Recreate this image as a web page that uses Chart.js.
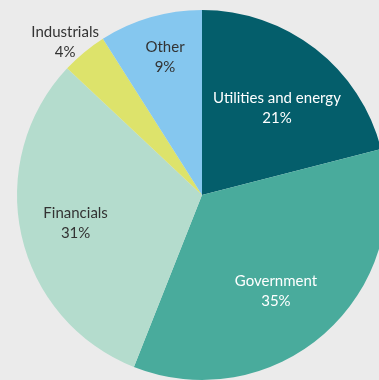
<!DOCTYPE html>
<html>
<head>
<meta charset="utf-8">
<script src="https://cdn.jsdelivr.net/npm/chart.js@4/dist/chart.umd.min.js"></script>
<style>
  html, body { margin: 0; padding: 0; background: #ebebeb; overflow: hidden; }
  body { width: 379px; height: 380px; position: relative; }
  #wrap { position: absolute; left: 0; top: 0; width: 404px; height: 390px; }
</style>
</head>
<body>
<div id="wrap"><canvas id="chart"></canvas></div>
<script>
// Sector breakdown (percent of total)
const sectors = ['Utilities and energy', 'Government', 'Financials', 'Industrials', 'Other'];
const shares = [21, 35, 31, 4, 9];
const sliceColors = ['#045e6b', '#49ab9c', '#b4dccd', '#dde36b', '#85c7ef'];
const labelColors = ['#ffffff', '#ffffff', '#333333', '#333333', '#333333'];
// Label placement: distance from the centre (fraction of radius) and a small angular nudge (degrees)
const labelRadius = [0.62, 0.655, 0.70, 1.11, 0.772];
const labelNudge = [3, 3.8, 0, -2.2, 1.2];

const sliceLabels = {
  id: 'sliceLabels',
  afterDatasetsDraw(chart) {
    const { ctx } = chart;
    const meta = chart.getDatasetMeta(0);
    ctx.save();
    ctx.font = '15px Lato, "Open Sans", sans-serif';
    ctx.textAlign = 'center';
    ctx.textBaseline = 'middle';
    meta.data.forEach((arc, i) => {
      const { x, y, startAngle, endAngle, outerRadius } = arc.getProps(['x', 'y', 'startAngle', 'endAngle', 'outerRadius'], true);
      const mid = (startAngle + endAngle) / 2 + labelNudge[i] * Math.PI / 180;
      const r = outerRadius * labelRadius[i];
      const lx = x + Math.cos(mid) * r;
      const ly = y + Math.sin(mid) * r;
      ctx.fillStyle = labelColors[i];
      ctx.fillText(sectors[i], lx, ly - 10);
      ctx.fillText(shares[i] + '%', lx, ly + 10);
    });
    ctx.restore();
  }
};

new Chart(document.getElementById('chart'), {
  type: 'pie',
  data: {
    labels: sectors,
    datasets: [{
      data: shares,
      backgroundColor: sliceColors,
      borderWidth: 0
    }]
  },
  options: {
    responsive: true,
    maintainAspectRatio: false,
    animation: false,
    layout: { padding: { left: 17, right: 17, top: 10, bottom: 10 } },
    plugins: {
      legend: { display: false },
      tooltip: { enabled: false }
    }
  },
  plugins: [sliceLabels]
});
</script>
</body>
</html>
